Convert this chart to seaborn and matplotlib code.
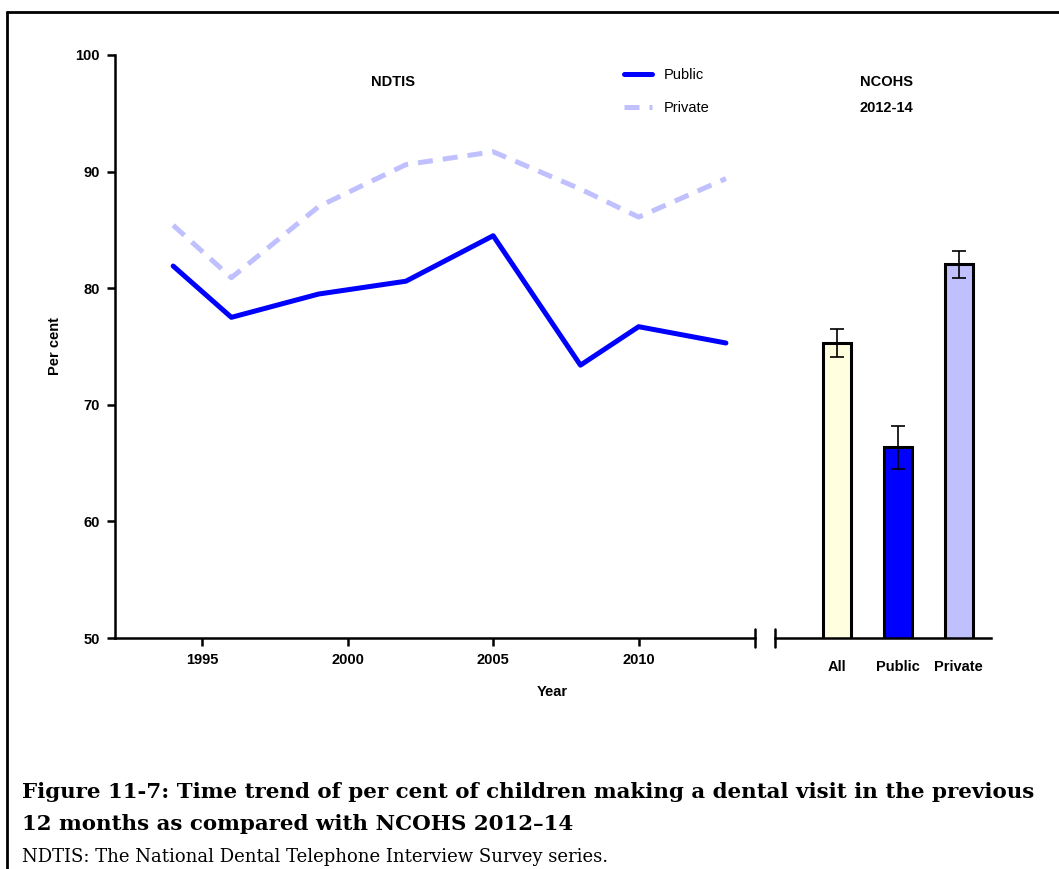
import pandas as pd
import seaborn as sns
import matplotlib
matplotlib.use("Agg")
import matplotlib.pyplot as plt
from matplotlib.lines import Line2D

# NDTIS series (per cent of children with a dental visit in previous 12 months)
years = [1994, 1996, 1999, 2002, 2005, 2008, 2010, 2013]
public = [81.9, 77.5, 79.5, 80.6, 84.5, 73.4, 76.7, 75.3]
private = [85.4, 80.9, 87.0, 90.6, 91.7, 88.5, 86.1, 89.4]

# NCOHS 2012-14 estimates with 95% CI
groups = ["All", "Public", "Private"]
ncohs = [75.3, 66.4, 82.1]
ci_low = [74.1, 64.5, 80.9]
ci_high = [76.5, 68.2, 83.2]

sns.set_theme(style="ticks", rc={"text.color": "black", "axes.labelcolor": "black",
                                 "xtick.color": "black", "ytick.color": "black",
                                 "axes.edgecolor": "black"})
plt.rcParams["font.family"] = ["Liberation Sans", "DejaVu Sans"]

W, H = 1059, 869
fig = plt.figure(figsize=(W / 100, H / 100), dpi=100)
lw_axis = 1.8
ax = fig.add_axes([115 / W, 1 - 638 / H, 640 / W, 583 / H])
ax2 = fig.add_axes([775 / W, 1 - 638 / H, 216 / W, 583 / H], sharey=ax)

df = pd.DataFrame({"Year": years, "Public": public, "Private": private})
sns.lineplot(data=df, x="Year", y="Public", ax=ax, color="#0000FF", lw=3.6,
             label="Public")
sns.lineplot(data=df, x="Year", y="Private", ax=ax, color="#C0C0FF", lw=3.6,
             linestyle=(0, (3, 2)), label="Private")

ax.set_xlim(1992, 2014)
ax.set_ylim(50, 100)
ax.set_xticks([1995, 2000, 2005, 2010])
ax.set_yticks(range(50, 101, 10))
ax.set_xlabel("")
ax.set_ylabel("Per cent", fontsize=10.5, fontweight="bold")
ax.yaxis.set_label_coords(-53 / 640, 0.5)
for s in ["top", "right"]:
    ax.spines[s].set_visible(False)
for s in ["left", "bottom"]:
    ax.spines[s].set_linewidth(lw_axis)
ax.tick_params(length=5.8, width=lw_axis, labelsize=10.5, pad=5)
for lab in ax.get_xticklabels() + ax.get_yticklabels():
    lab.set_fontweight("bold")

leg = ax.legend(loc="upper left", bbox_to_anchor=(0.775, 1.0), frameon=False,
                fontsize=10.5, handlelength=1.9, labelspacing=1.3)
for h in leg.get_lines():
    h.set_linewidth(3.6)

ax.text(0.434, 0.954, "NDTIS", transform=ax.transAxes, ha="center",
        va="center", fontsize=10.5, fontweight="bold")

# NCOHS bars
bdf = pd.DataFrame({"Group": groups, "Percent": ncohs})
sns.barplot(data=bdf, x="Group", y="Percent", hue="Group", ax=ax2,
            palette=["#FFFFE0", "#0000FF", "#C0C0FF"], saturation=1, width=0.46,
            edgecolor="black", linewidth=2.2, errorbar=None, legend=False)
yerr = [[v - lo for v, lo in zip(ncohs, ci_low)],
        [hi - v for v, hi in zip(ncohs, ci_high)]]
ax2.errorbar(range(len(groups)), ncohs, yerr=yerr, fmt="none", ecolor="black",
             elinewidth=1.2, capsize=5, capthick=1.2)
ax2.set_xlim(-1.01, 2.53)
ax2.set_ylim(50, 100)
ax2.set_xlabel("")
ax2.set_ylabel("")
for s in ["top", "right", "left"]:
    ax2.spines[s].set_visible(False)
ax2.spines["bottom"].set_linewidth(lw_axis)
ax2.tick_params(axis="y", left=False, labelleft=False)
ax2.tick_params(axis="x", length=0, labelsize=10.5, pad=16)
for lab in ax2.get_xticklabels():
    lab.set_fontweight("bold")
ax2.text(0.514, 0.954, "NCOHS", transform=ax2.transAxes, ha="center",
         va="center", fontsize=10.5, fontweight="bold")
ax2.text(0.514, 0.909, "2012-14", transform=ax2.transAxes, ha="center",
         va="center", fontsize=10.5, fontweight="bold")

# axis break marks
ax.plot([1, 1], [-0.016, 0.016], transform=ax.transAxes, color="black",
        lw=lw_axis, clip_on=False)
ax2.plot([0, 0], [-0.016, 0.016], transform=ax2.transAxes, color="black",
         lw=lw_axis, clip_on=False)

fig.text(552 / W, 1 - 692 / H, "Year", ha="center", va="center",
         fontsize=10.5, fontweight="bold")

# frame around the chart
fig.add_artist(Line2D([7 / W, 1], [1 - 12 / H] * 2, transform=fig.transFigure,
                      color="black", lw=2))
fig.add_artist(Line2D([7 / W, 7 / W], [0, 1 - 12 / H], transform=fig.transFigure,
                      color="black", lw=2))

serif = ["DejaVu Serif"]
fig.text(22 / W, 1 - 798 / H,
         "Figure 11-7: Time trend of per cent of children making a dental visit in the previous",
         fontsize=15.4, fontweight="bold", family=serif, va="baseline")
fig.text(22 / W, 1 - 830 / H, "12 months as compared with NCOHS 2012\u201314",
         fontsize=15.4, fontweight="bold", family=serif, va="baseline")
fig.text(22 / W, 1 - 862 / H,
         "NDTIS: The National Dental Telephone Interview Survey series.",
         fontsize=13, family=serif, va="baseline")

plt.savefig("out.png", dpi=100)
